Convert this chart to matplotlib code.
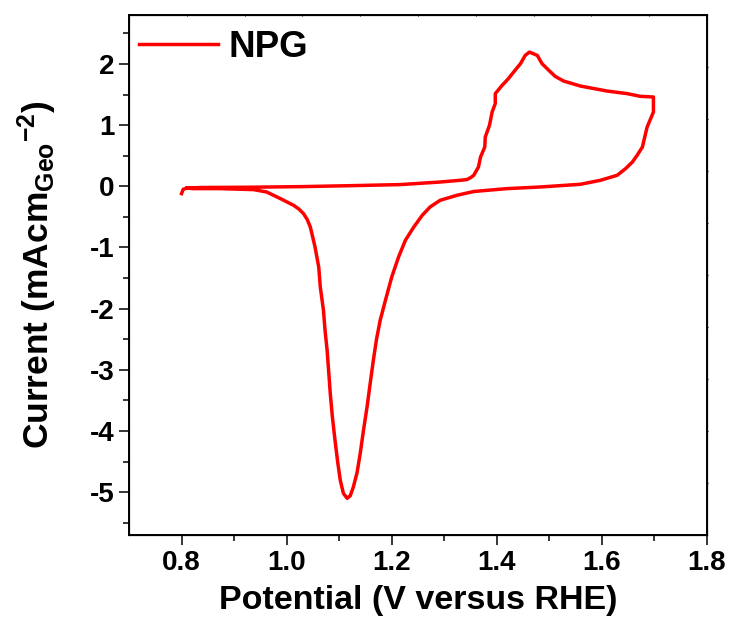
import numpy as np
import matplotlib
matplotlib.use("Agg")
from matplotlib import pyplot as plt

plt.rcParams['font.family'] = ['Liberation Sans', 'DejaVu Sans']
plt.rcParams['font.weight'] = 'bold'
plt.rcParams['mathtext.default'] = 'regular'

# CV of NPG (forward sweep then reverse sweep)
potential = [0.800, 0.803, 0.810, 0.835, 0.930, 1.030, 1.120, 1.216, 1.292, 1.330,
             1.343, 1.351, 1.356, 1.365, 1.369, 1.377, 1.378, 1.386, 1.391, 1.397,
             1.397, 1.410, 1.422, 1.432, 1.445, 1.454, 1.462, 1.477, 1.486, 1.499,
             1.511, 1.527, 1.559, 1.610, 1.648, 1.673, 1.698,
             1.698, 1.686, 1.683, 1.677, 1.667, 1.658, 1.645, 1.629, 1.597, 1.559,
             1.483, 1.419, 1.356, 1.324, 1.292, 1.273, 1.258, 1.242, 1.226, 1.213,
             1.200, 1.188, 1.178, 1.171, 1.165, 1.159, 1.153, 1.146, 1.140, 1.134,
             1.127, 1.121, 1.115, 1.108, 1.102, 1.097, 1.092, 1.087, 1.083, 1.080,
             1.077, 1.073, 1.070, 1.064, 1.061, 1.054, 1.048, 1.045, 1.039, 1.032,
             1.023, 1.013, 0.988, 0.962, 0.937, 0.873, 0.822, 0.810]
current = [-0.12, -0.05, -0.03, -0.02, -0.015, -0.005, 0.01, 0.028, 0.07, 0.098,
           0.11, 0.147, 0.18, 0.315, 0.479, 0.642, 0.806, 0.997, 1.214, 1.351,
           1.515, 1.650, 1.760, 1.868, 2.005, 2.140, 2.194, 2.140, 2.005, 1.895,
           1.797, 1.721, 1.639, 1.557, 1.515, 1.471, 1.46,
           1.214, 0.969, 0.861, 0.642, 0.507, 0.397, 0.289, 0.180, 0.098, 0.033,
           -0.011, -0.038, -0.085, -0.147, -0.229, -0.338, -0.474, -0.665, -0.882, -1.155,
           -1.482, -1.863, -2.190, -2.50, -2.843, -3.22, -3.606, -4.00, -4.368, -4.68,
           -4.913, -5.06, -5.10, -5.02, -4.804, -4.50, -4.150, -3.77, -3.387, -3.03,
           -2.680, -2.35, -2.026, -1.645, -1.319, -0.992, -0.773, -0.665, -0.54, -0.446,
           -0.37, -0.310, -0.201, -0.093, -0.054, -0.038, -0.038, -0.03]

xticks = [0.8, 1.0, 1.2, 1.4, 1.6, 1.8]
yticks = [-5, -4, -3, -2, -1, 0, 1, 2]

fig = plt.figure(figsize=(7.31, 6.26), dpi=100)
ax = fig.add_axes([0.1765, 0.1454, 0.7907, 0.8306])

ax.plot(potential, current, color='#ff0000', lw=2.5, label='NPG')

ax.set_xlim(0.7, 1.8)
ax.set_ylim(-5.7, 2.8)
ax.set_xticks(xticks)
ax.set_xticklabels(['%.1f' % t for t in xticks])
ax.set_yticks(yticks)
ax.set_yticklabels(['%d' % t for t in yticks])
ax.set_xticks(np.arange(0.9, 1.8, 0.2), minor=True)
ax.set_yticks(np.arange(-5.5, 2.6, 1.0), minor=True)
ax.tick_params(which='major', length=7.5, width=1.1, labelsize=20, direction='out')
ax.tick_params(which='minor', length=4, width=1.1, direction='out')
ax.tick_params(axis='y', pad=3)
ax.tick_params(top=False, right=False)
for s in ax.spines.values():
    s.set_linewidth(1.4)

# tiny ticks on top and right edges
axt = ax.twiny()
axt.set_xlim(0, 1)
axt.set_xticks(np.arange(0.1, 1.0, 0.1))
axt.tick_params(axis='x', length=2, width=0.8, direction='inout', labeltop=False)
axr = ax.twinx()
axr.set_ylim(0, 1)
axr.set_yticks(np.arange(0.1, 1.0, 0.1))
axr.tick_params(axis='y', length=2, width=0.8, direction='inout', labelright=False)

ax.set_xlabel('Potential (V versus RHE)', fontsize=24.5, fontweight='bold', labelpad=6)
ax.set_ylabel('Current (mAcm$_{Geo}$$^{-2}$)', fontsize=25.5, fontweight='bold', labelpad=22)

ax.legend(loc='upper left', bbox_to_anchor=(0.0, 0.991), frameon=False, fontsize=26.5,
          handlelength=2.15, handletextpad=0.28, borderaxespad=0.0, borderpad=0.27)

fig.savefig('out.png', dpi=100)
